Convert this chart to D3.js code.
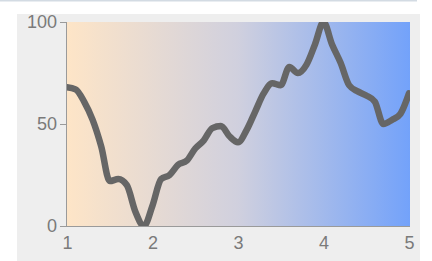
<!DOCTYPE html>
<html><head><meta charset="utf-8">
<script src="https://cdn.jsdelivr.net/npm/d3@7"></script>
<style>
html,body{margin:0;padding:0;background:#fff;}
svg{display:block;}
.axis text{font-family:"Liberation Sans",Arial,sans-serif;font-size:18px;fill:#7a7a7a;}
.axis path,.axis line{stroke:#9a9a9a;shape-rendering:crispEdges;}
</style>
</head><body>
<script>
const xValues = [1.0,1.1,1.2,1.3,1.4,1.5,1.6,1.7,1.8,1.9,2.0,2.1,2.2,2.3,2.4,2.5,2.6,2.7,2.8,2.9,3.0,3.1,3.2,3.3,3.4,3.5,3.6,3.7,3.8,3.9,4.0,4.1,4.2,4.3,4.4,4.5,4.6,4.7,4.8,4.9,5.0];
const yValues = [68,67,61,52,39,22,23,20,7,0,10,23,25,30,32,38,42,48,49,44,41,47,56,65,70,69,78,75,79,89,100,89,80,69,66,64,61,50,52,55,65];
const xTicks = [1,2,3,4,5];
const yTicks = [0,50,100];

const W = 432, H = 261;
const plot = {left:66, right:410, top:22, bottom:226};

const svg = d3.select("body").append("svg").attr("width", W).attr("height", H);
const defs = svg.append("defs");
const grad = defs.append("linearGradient").attr("id","bg").attr("x1","0%").attr("x2","100%").attr("y1","0%").attr("y2","0%");
grad.append("stop").attr("offset","0%").attr("stop-color","#fee5c7");
grad.append("stop").attr("offset","50%").attr("stop-color","#d0d0de");
grad.append("stop").attr("offset","100%").attr("stop-color","#73a2fa");
defs.append("clipPath").attr("id","clip").append("rect")
  .attr("x",plot.left).attr("y",plot.top).attr("width",plot.right-plot.left).attr("height",plot.bottom-plot.top);

// top rule
svg.append("rect").attr("x",0).attr("y",0).attr("width",417).attr("height",1.5).attr("fill","#d3dbe3");
// panel
svg.append("rect").attr("x",17).attr("y",14).attr("width",403).attr("height",H-14).attr("fill","#eeeeee");
// plot background
svg.append("rect").attr("x",plot.left).attr("y",plot.top).attr("width",plot.right-plot.left).attr("height",plot.bottom-plot.top).attr("fill","url(#bg)");

const x = d3.scaleLinear().domain([1,5]).range([67,409]);
const y = d3.scaleLinear().domain([0,100]).range([plot.bottom, plot.top]);

const data = xValues.map((v,i)=>({x:v,y:yValues[i]}));
const line = d3.line().x(d=>x(d.x)).y(d=>y(d.y)).curve(d3.curveMonotoneX);

svg.append("path").datum(data).attr("clip-path","url(#clip)")
  .attr("d",line).attr("fill","none").attr("stroke","#666666")
  .attr("stroke-width",6.5).attr("stroke-linejoin","round").attr("stroke-linecap","round");

svg.append("g").attr("class","axis").attr("transform",`translate(0,${plot.bottom})`)
  .call(d3.axisBottom(x).tickValues(xTicks).tickFormat(d3.format("d")).tickSize(0).tickPadding(10))
  .call(g=>g.select(".domain").attr("d",`M${plot.left},0.5H${plot.right}`));

svg.append("g").attr("class","axis").attr("transform",`translate(${plot.left},0)`)
  .call(d3.axisLeft(y).tickValues(yTicks).tickSize(6).tickPadding(3));
</script>
</body></html>
